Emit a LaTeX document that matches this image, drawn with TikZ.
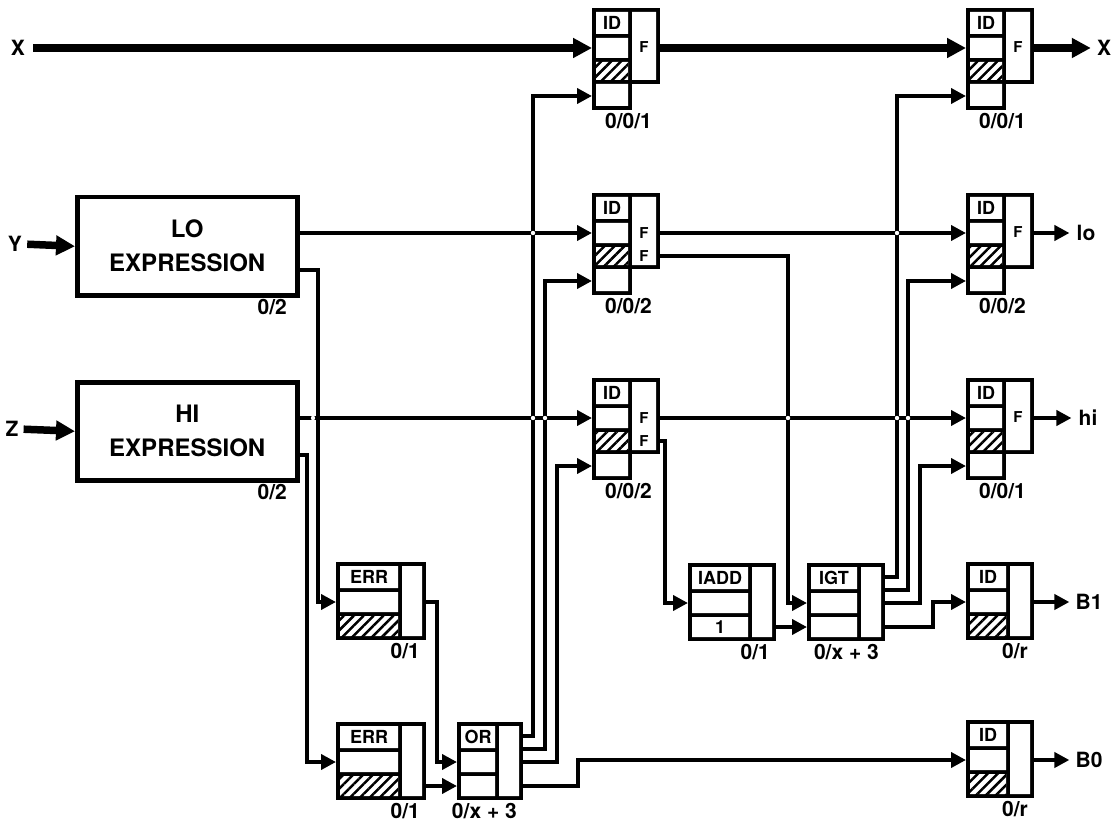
\documentclass[tikz,border=0pt]{standalone}
\usepackage{fontspec}
\setmainfont{TeX Gyre Heros}
\usetikzlibrary{arrows.meta,patterns.meta,calc}

% ID cell with F column: name, x, y, number of F outputs, cost
\newcommand{\idcell}[5]{%
  \begin{scope}[shift={(#2,#3)}]
    \fill (0,0) rectangle (40,102);
    \fill (36,0) rectangle (68,76);
    \fill[white] (4,4) rectangle (36,26) (4,30) rectangle (36,50)
      (4,54) rectangle (36,72) (4,76) rectangle (36,98)
      (40,4) rectangle (64,72);
    \path[hatch] (4,54) rectangle (36,72);
    \node[celltext] (#1-name) at (20,15) {ID};
    \ifnum#4=1
      \node[ftext] (#1-f) at (52,39) {F};
    \else
      \node[ftext] (#1-f) at (52,40) {F};
      \node[ftext] (#1-g) at (52,63) {F};
    \fi
    \node[costtext] (#1-cost) at (60,105) {#5};
    \coordinate (#1-a) at (0,40);
    \coordinate (#1-c) at (0,88);
    \coordinate (#1-fa) at (68,40);
    \coordinate (#1-fb) at (68,63);
  \end{scope}}

% three-row operator cell: name, x, y, left width, operator, cost
\newcommand{\opcell}[6]{%
  \begin{scope}[shift={(#2,#3)}]
    \pgfmathsetmacro\cellw{#4+28}
    \fill (0,0) rectangle (\cellw,78);
    \fill[white] (4,4) rectangle (#4,26) (4,30) rectangle (#4,50)
      (4,54) rectangle (#4,74) (#4+4,4) rectangle (\cellw-4,74);
    \node[celltext] (#1-name) at ({(#4+4)/2},15) {#5};
    \node[costtext] (#1-cost) at (\cellw-6,81) {#6};
    \coordinate (#1-a) at (0,40);
    \coordinate (#1-b) at (0,64);
    \coordinate (#1-mid) at ({(#4+4)/2},64);
    \coordinate (#1-lo) at (4,74);
    \coordinate (#1-hi) at (#4,54);
    \foreach \k/\dy in {1/14,2/27,3/40,4/64}
      \coordinate (#1-o\k) at (\cellw,\dy);
  \end{scope}}
\newcommand{\hatchrow}[1]{\path[hatch] (#1-lo) rectangle (#1-hi);}

\begin{document}
\begin{tikzpicture}[x=1pt, y=-1pt,
    wire/.style={line width=4pt, -{Triangle[length=15pt,width=15pt]}},
    bus/.style={line width=7.5pt, -{Triangle[length=19pt,width=19pt]}},
    hatch/.style={pattern={Lines[angle=45,distance=7pt,line width=2.5pt]}},
    celltext/.style={font=\fontsize{18}{18}\selectfont\bfseries, inner sep=0pt},
    ftext/.style={font=\fontsize{15}{15}\selectfont\bfseries, inner sep=0pt},
    costtext/.style={font=\fontsize{21}{21}\selectfont\bfseries, inner sep=0pt, anchor=north east},
    sidetext/.style={font=\fontsize{21}{21}\selectfont\bfseries, inner sep=0pt},
    exprbox/.style={draw, line width=4.5pt, minimum width=220pt, minimum height=98pt,
      anchor=north west, align=center, font=\fontsize{24}{34}\selectfont\bfseries}]
  \fill[white] (0,0) rectangle (1116,821);
  \useasboundingbox (0,0) rectangle (1116,821);

  % ---------------- expressions ----------------
  \node[exprbox] (lo) at (75,195) {LO\\EXPRESSION};
  \node[exprbox] (hi) at (75,380) {HI\\EXPRESSION};
  \node[costtext] (lo-cost) at (287,299) {0/2};
  \node[costtext] (hi-cost) at (287,484) {0/2};
  \coordinate (lo-o1) at ($(lo.north east)+(0,38)$);
  \coordinate (lo-o2) at ($(lo.north east)+(0,75)$);
  \coordinate (hi-o1) at ($(hi.north east)+(0,38)$);
  \coordinate (hi-o2) at ($(hi.north east)+(0,75)$);

  % ---------------- cells ----------------
  \idcell{ida1}{592}{8}{1}{0/0/1}
  \idcell{ida2}{592}{193}{2}{0/0/2}
  \idcell{ida3}{592}{378}{2}{0/0/2}
  \idcell{idb1}{966}{8}{1}{0/0/1}
  \idcell{idb2}{966}{193}{1}{0/0/2}
  \idcell{idb3}{966}{378}{1}{0/0/1}
  \opcell{err1}{336}{562}{62}{ERR}{0/1}
  \opcell{err2}{336}{722}{62}{ERR}{0/1}
  \opcell{or}{457}{722}{38}{OR}{0/x + 3}
  \opcell{iadd}{688}{563}{60}{IADD}{0/1}
  \opcell{igt}{807}{563}{50}{IGT}{0/x + 3}
  \opcell{idr1}{966}{562}{40}{ID}{0/r}
  \opcell{idr0}{966}{720}{40}{ID}{0/r}
  \hatchrow{err1}
  \hatchrow{err2}
  \hatchrow{idr1}
  \hatchrow{idr0}
  \node[celltext] (iadd-one) at (iadd-mid) {1};

  % ---------------- side labels ----------------
  \node[sidetext] (xl) at (18,48) {X};
  \node[sidetext] (yl) at (15,244) {Y};
  \node[sidetext] (zl) at (12,429) {Z};
  \node[sidetext] (xo) at (1104,48) {X};
  \node[sidetext] (lout) at (1086,233) {lo};
  \node[sidetext] (hout) at (1088,418) {hi};
  \node[sidetext] (b1l) at (1089,602) {B1};
  \node[sidetext] (b0l) at (1089,760) {B0};

  % ---------------- buses ----------------
  \draw[bus, shorten <=8pt] (xl.east) -- (ida1-a);
  \draw[bus] (ida1-fa) -- (idb1-a);
  \draw[bus, shorten >=6pt] (idb1-fa) -- (xo.west);
  \draw[bus, shorten <=5pt] (yl.east) -- (lo.west);
  \draw[bus, shorten <=5pt] (zl.east) -- (hi.west);

  % ---------------- wires ----------------
  \draw[wire] (lo-o1) -- (ida2-a);
  \draw[wire] (lo-o2) -- ++(18,0) |- (err1-a);
  \draw[wire] (hi-o1) -- (ida3-a);
  \draw[wire] (hi-o2) -- ++(7,0) |- (err2-a);
  \draw[wire] (err1-o3) -- ++(11,0) |- (or-a);
  \draw[wire] (err2-o4) -- (or-b);
  \draw[wire] (or-o1) -- ++(10,0) |- (ida1-c);
  \draw[wire] (or-o2) -- ++(22,0) |- (ida2-c);
  \draw[wire] (or-o3) -- ++(34,0) |- (ida3-c);
  \draw[wire] (or-o4) -- ++(55,0) |- (idr0-a);
  \draw[wire] (ida2-fa) -- (idb2-a);
  \draw[wire] (ida2-fb) -- ++(128,0) |- (igt-a);
  \draw[wire] (ida3-fa) -- (idb3-a);
  \draw[wire] (ida3-fb) -- ++(5,0) |- (iadd-a);
  \draw[wire] (iadd-o4) -- (igt-b);
  \draw[wire] (igt-o1) -- ++(12,0) |- (idb1-c);
  \draw[wire] (igt-o2) -- ++(23,0) |- (idb2-c);
  \draw[wire] (igt-o3) -- ++(35,0) |- (idb3-c);
  \draw[wire] (igt-o4) -- ++(48,0) |- (idr1-a);
  \draw[wire, shorten >=7pt] (idb2-fa) -- (lout.west);
  \draw[wire, shorten >=7pt] (idb3-fa) -- (hout.west);
  \draw[wire, shorten >=6pt] (idr1-o3) -- (b1l.west);
  \draw[wire, shorten >=6pt] (idr0-o3) -- (b0l.west);

  % crossings without contact
  \foreach \cx/\cy in {313/418, 533/233, 533/418, 545/418, 788/418,
                       897/233, 897/418, 908/418}
    \fill[white] (\cx,\cy) circle (2.2pt);
\end{tikzpicture}
\end{document}
